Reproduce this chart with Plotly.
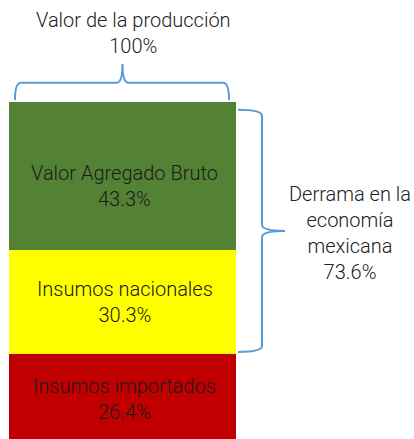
import plotly.graph_objects as go

categories = ["Insumos importados", "Insumos nacionales", "Valor Agregado Bruto"]
values = [26.4, 30.3, 43.3]
colors = ["#C00000", "#FFFF00", "#548235"]
total_label = "Valor de la producción<br>100%"
derrama_label = "Derrama en la<br>economía<br>mexicana<br>73.6%"
derrama_value = 73.6

W, H = 414, 439
bar_x = 122.5
bar_w = 227
px_per_pct = 3.42
y_zero_px = 444
y_lo = (y_zero_px - H) / px_per_pct
y_hi = y_zero_px / px_per_pct


def px2y(p):
    return (y_zero_px - p) / px_per_pct


FONT = "Roboto"
FS = 20
TXT = "#222222"
BLUE = "#5B9BD5"

fig = go.Figure()
base = 0
annotations = []
for cat, v, c in zip(categories, values, colors):
    fig.add_trace(go.Bar(x=[bar_x], y=[v], base=[base], width=[bar_w],
                         marker=dict(color=c, line=dict(width=0)),
                         hoverinfo="skip", showlegend=False))
    annotations.append(dict(x=bar_x + 2, y=base + v / 2, xref="x", yref="y",
                            text=f"{cat}<br>{v:.1f}%", showarrow=False,
                            font=dict(family=FONT, size=FS, color="#1a1a1a", weight=300),
                            yshift=-10 if cat == "Valor Agregado Bruto" else 0))
    base += v

total = sum(values)
# top brace
x0 = bar_x - bar_w / 2 + 6
x1 = bar_x + bar_w / 2 - 7
xc = bar_x
ye = total + 0.6
yl = total + 5.6
yt = total + 11.1
rx, ry = 6, 1.8
top_path = (f"M {x0},{ye} Q {x0},{yl} {x0+rx},{yl} L {xc-rx},{yl} "
            f"Q {xc},{yl} {xc},{yt} Q {xc},{yl} {xc+rx},{yl} "
            f"L {x1-rx},{yl} Q {x1},{yl} {x1},{ye}")
# right brace
rb_x0 = bar_x + bar_w / 2 + 2
rb_xl = rb_x0 + 24
rb_xt = rb_x0 + 47
ya = total - 2.3
yb = total - derrama_value + 0.5
ym = (ya + yb) / 2
rr = 1.8
right_path = (f"M {rb_x0},{ya} Q {rb_xl},{ya} {rb_xl},{ya-rr} L {rb_xl},{ym+rr} "
              f"Q {rb_xl},{ym} {rb_xt},{ym} Q {rb_xl},{ym} {rb_xl},{ym-rr} "
              f"L {rb_xl},{yb+rr} Q {rb_xl},{yb} {rb_x0},{yb}")
shapes = [
    dict(type="path", path=top_path, xref="x", yref="y",
         line=dict(color=BLUE, width=2)),
    dict(type="path", path=right_path, xref="x", yref="y",
         line=dict(color=BLUE, width=2)),
]
annotations.append(dict(x=133, y=px2y(33), xref="x", yref="y",
                        text=total_label, showarrow=False,
                        font=dict(family=FONT, size=FS, color=TXT, weight=300)))
annotations.append(dict(x=350, y=px2y(233), xref="x", yref="y",
                        text=derrama_label, showarrow=False,
                        font=dict(family=FONT, size=FS, color=TXT, weight=300)))

fig.update_layout(
    width=W, height=H, margin=dict(l=0, r=0, t=0, b=0),
    paper_bgcolor="white", plot_bgcolor="white",
    barmode="overlay", shapes=shapes, annotations=annotations,
    xaxis=dict(range=[0, W], visible=False, fixedrange=True),
    yaxis=dict(range=[y_lo, y_hi], visible=False, fixedrange=True),
)
fig.write_html("out.html", config={"displayModeBar": False},
               post_script="document.body.style.margin='0';document.body.style.overflow='hidden';")
